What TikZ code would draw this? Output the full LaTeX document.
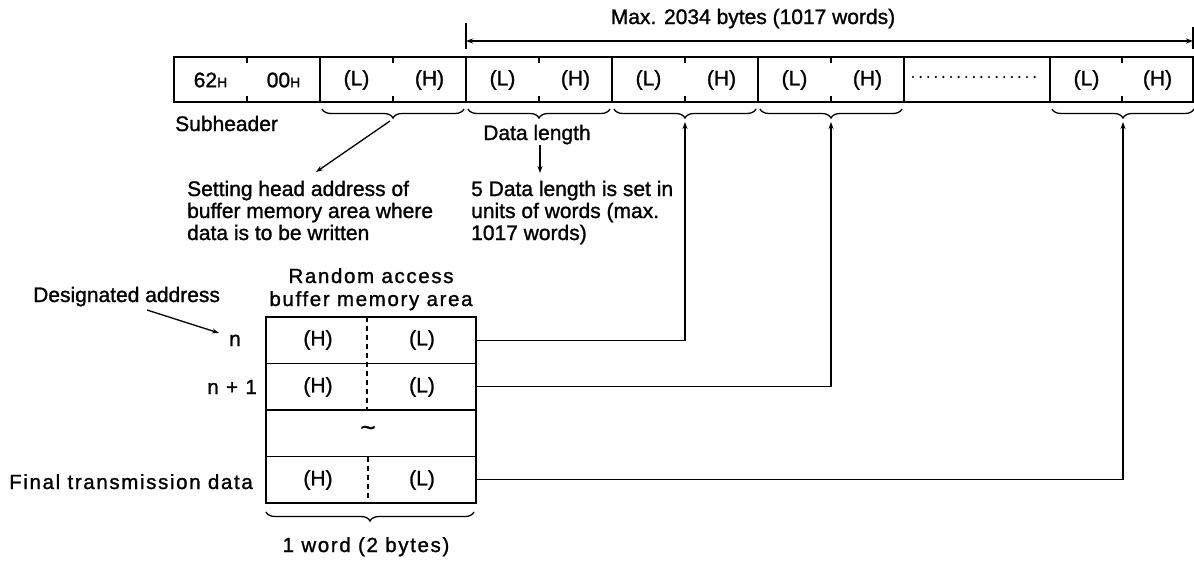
\documentclass[tikz,border=0pt]{standalone}
\usepackage{fontspec}
\setmainfont{Liberation Sans}[BoldFont={Liberation Sans}, BoldFeatures={FakeBold=1.2}]
\usetikzlibrary{arrows.meta,decorations.pathreplacing}
\begin{document}
\begin{tikzpicture}[x=1pt,y=-1pt,
  every node/.style={inner sep=0pt, font=\fontsize{21}{22}\selectfont\bfseries},
  wide/.style={font=\fontsize{20.5}{23}\selectfont\bfseries\addfontfeature{LetterSpace=8}},
  box/.style={line width=1.5pt},
  ln/.style={line width=1.3pt},
  arr/.style={line width=1.3pt,-{Stealth[length=7pt,width=5pt]}},
  barr/.style={line width=1.3pt,{Stealth[length=7pt,width=5pt]}-{Stealth[length=7pt,width=5pt]}},
  brc/.style={line width=1.3pt, decorate, decoration={brace,mirror,amplitude=9pt}},
  tickmark/.style={line width=1.3pt},
  rowbox/.style={draw, line width=1.5pt, minimum width=210pt, minimum height=46.5pt},
  half/.style={line width=1.3pt, dash pattern=on 5pt off 4pt},
]
\useasboundingbox (0,0) rectangle (1194,560);

% Max bracket
\node[anchor=base] (maxt) at (753,24) {Max. 2034 bytes (1017 words)};
\coordinate (mL) at (466,41);
\coordinate (mR) at (1193,41);
\draw[barr] (mL) -- (mR);
\draw[ln] (466,23) -- (466,49);
\draw[ln] (1193,27) -- (1193,49);

% top row
\draw[box] (174,57) rectangle (1193,102);
\foreach \x in {320,466,612,758,904,1050} \draw[box] (\x,57) -- (\x,102);
\foreach \x in {247,393,539,685,831,1122} {
  \draw[tickmark] (\x,57) -- (\x,63);
  \draw[tickmark] (\x,96) -- (\x,102);
}
\node (c1) at (210.5,80) {62{\fontsize{14}{14}\selectfont H}};
\node (c2) at (283.5,80) {00{\fontsize{14}{14}\selectfont H}};
\foreach \x/\t [count=\i from 3] in {356.5/(L),429.5/(H),502.5/(L),575.5/(H),648.5/(L),721.5/(H),794.5/(L),867.5/(H),1086.5/(L),1157.5/(H)}
  \node (c\i) at (\x,80) {\t};
\draw[line width=2.4pt, line cap=round, dash pattern=on 0pt off 7.6pt] (913,77) -- (1042,77);

% braces under top row
\draw[brc] (322,109) -- (464,109);
\draw[brc] (468,109) -- (610,109);
\draw[brc] (614,109) -- (756,109);
\draw[brc] (760,109) -- (902,109);
\draw[brc] (1052,109) -- (1194,109);
\coordinate (tA) at (390,121);
\coordinate (t1) at (685,122);
\coordinate (t2) at (831,122);
\coordinate (t3) at (1123,122);

\node[anchor=base west] (sub) at (175,131) {Subheader};
\node[anchor=base] (dl) at (537,140) {Data length};

\node[anchor=base west, align=left] (set) at (187,240) {Setting head address of\\buffer memory area where\\data is to be written};
\node[anchor=base west, align=left] (fdl) at (471,240) {5 Data length is set in\\units of words (max.\\1017 words)};
\coordinate (sA) at (316,172);
\coordinate (sD) at (540,173);
\draw[arr] (tA) -- (sA);
\draw[arr] (dl.south -| sD) -- (sD);

% memory area
\node[wide, align=center, anchor=base] (ra) at (371,306) {Random access\\buffer memory area};
\node[anchor=base west] (da) at (33,302) {Designated address};
\coordinate (dA) at (219,333);
\draw[arr] (147,310) -- (dA);

\node[rowbox] (r1) at (371,340.25) {};
\node[rowbox] (r2) at (371,386.75) {};
\node[rowbox] (r3) at (371,433.25) {};
\node[rowbox] (r4) at (371,479.75) {};
\draw[half] (367,317) -- (367,410);
\draw[half] (368,456.5) -- (368,503);
\node (h1) at (318,340) {(H)}; \node (l1) at (422,340) {(L)};
\node (h2) at (318,387) {(H)}; \node (l2) at (422,387) {(L)};
\node[font=\fontsize{26}{26}\selectfont\bfseries] (tl) at (368,431) {\textasciitilde};
\node (h4) at (318,480) {(H)}; \node (l4) at (422,480) {(L)};

\node[anchor=base] (n1) at (235,346) {n};
\node[wide, anchor=base east] (n2) at (257,394) {n + 1};
\node[wide, anchor=base east] (fin) at (253,489) {Final transmission data};

\draw[brc] (266,512) -- (474,512);
\node[wide, anchor=base] (wd) at (366,552) {1 word (2 bytes)};

% connectors
\draw[arr] (r1.east) -| (t1);
\draw[arr] (r2.east) -| (t2);
\draw[arr] (r4.east) -| (t3);
\end{tikzpicture}
\end{document}
